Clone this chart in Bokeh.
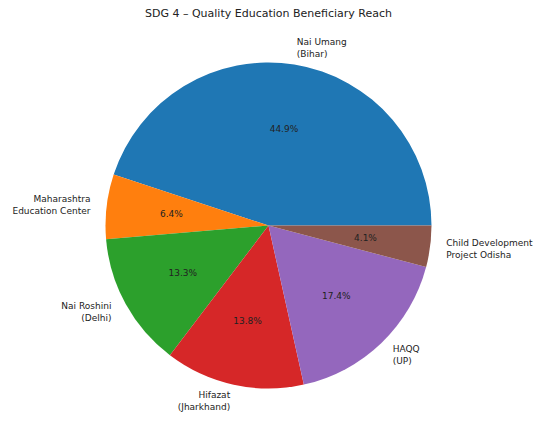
import math
from bokeh.plotting import figure
from bokeh.models import Range1d, ColumnDataSource
from bokeh.core.properties import value
from bokeh.embed import file_html
from bokeh.resources import INLINE

# ---- data ----
labels = ["Nai Umang\n(Bihar)", "Maharashtra\nEducation Center", "Nai Roshini\n(Delhi)",
          "Hifazat\n(Jharkhand)", "HAQQ\n(UP)", "Child Development\nProject Odisha"]
shares = [44.9, 6.4, 13.3, 13.8, 17.4, 4.1]
colors = ["#1f77b4", "#ff7f0e", "#2ca02c", "#d62728", "#9467bd", "#8c564b"]
title_text = "SDG 4 \u2013 Quality Education Beneficiary Reach"

W, H = 536, 433
cx, cy = 268, 225  # pie centre in figure pixels (from top-left)
R = 163

total = sum(shares)
starts, ends, mids = [], [], []
acc = 0.0
for v in shares:
    a0 = 2 * math.pi * acc / total
    acc += v
    a1 = 2 * math.pi * acc / total
    starts.append(a0)
    ends.append(a1)
    mids.append((a0 + a1) / 2)

pct_text = ["%.1f%%" % (100 * v / total) for v in shares]
pct_x = [0.6 * R * math.cos(m) for m in mids]
pct_y = [0.6 * R * math.sin(m) for m in mids]
lab_x = [1.1 * R * math.cos(m) for m in mids]
lab_y = [1.1 * R * math.sin(m) for m in mids]
lab_align = ["right" if x < 0 else "left" for x in lab_x]

src = ColumnDataSource(dict(start=starts, end=ends, color=colors,
                            px=pct_x, py=pct_y, pt=pct_text,
                            lx=lab_x, ly=lab_y, lt=labels, la=lab_align))

p = figure(width=W, height=H, output_backend="svg", toolbar_location=None,
           x_range=Range1d(-cx, W - cx), y_range=Range1d(-(H - cy), cy),
           min_border=0, outline_line_color=None)
p.axis.visible = False
p.grid.visible = False
p.background_fill_color = "white"
p.border_fill_color = "white"

p.wedge(x=0, y=0, radius=R, start_angle="start", end_angle="end",
        fill_color="color", line_color=None, source=src)

p.text(x="px", y="py", text="pt", source=src, text_align="center",
       text_baseline="middle", text_font=value("DejaVu Sans"),
       text_font_size="9px", text_color="#222222")

p.text(x="lx", y="ly", text="lt", source=src, text_align="la",
       text_baseline="middle", text_font=value("DejaVu Sans"),
       text_font_size="9px", text_color="#222222", text_line_height=1.2)

p.text(x=[0], y=[cy - 13], text=[title_text], text_align="center",
       text_baseline="middle", text_font=value("DejaVu Sans"),
       text_font_size="11px", text_color="#222222")

open("out.html", "w").write(file_html(p, INLINE))
